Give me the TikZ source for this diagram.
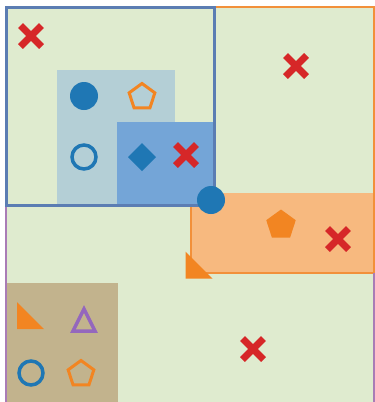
\documentclass[tikz,border=0pt]{standalone}
\definecolor{bggreen}{HTML}{DFEBCF}
\definecolor{blueborder}{HTML}{5B7DB3}
\definecolor{lightblue}{HTML}{B4CFD6}
\definecolor{midblue}{HTML}{74A5D7}
\definecolor{orangefill}{HTML}{F7B97F}
\definecolor{orangeline}{HTML}{F2903A}
\definecolor{mblue}{HTML}{1F77B4}
\definecolor{morange}{HTML}{F28522}
\definecolor{mred}{HTML}{D62728}
\definecolor{mpurple}{HTML}{9467BD}
\definecolor{purpleline}{HTML}{A97CB6}
\definecolor{tan}{HTML}{C2B38D}
\tikzset{
  xmark/.pic={\draw[mred,line width=7pt] (-10.5,-10.5)--(10.5,10.5) (-10.5,10.5)--(10.5,-10.5);},
  pentout/.pic={\draw[morange,line width=3pt,line join=miter] (0,-13.5)--(-12.84,-4.17)--(-7.94,10.92)--(7.94,10.92)--(12.84,-4.17)--cycle;},
  pentfill/.pic={\fill[morange] (0,-15.5)--(-14.74,-4.79)--(-9.11,12.54)--(9.11,12.54)--(14.74,-4.79)--cycle;},
  circfill/.pic={\fill[mblue] (0,0) circle (14);},
  circout/.pic={\draw[mblue,line width=3.5pt] (0,0) circle (12);},
  diam/.pic={\fill[mblue] (0,-14)--(14,0)--(0,14)--(-14,0)--cycle;},
  rtri/.pic={\fill[morange] (0,0)--(0,27)--(27,27)--cycle;},
  triout/.pic={\draw[mpurple,line width=3.5pt,line join=miter] (0,-11)--(11,11)--(-11,11)--cycle;}
}
\begin{document}
\begin{tikzpicture}[x=1pt,y=-1pt]
\useasboundingbox (0,0) rectangle (375,402);
% background
\fill[bggreen] (5,6) rectangle (375,402);
% orange strip
\fill[orangefill] (191,193) rectangle (375,273);
% orange set outline
\draw[orangeline,line width=2.5pt] (191,7) rectangle (374,273);
% tan region
\fill[tan] (7,283) rectangle (118,402);
% purple set outline
\draw[purpleline,line width=2.5pt] (6,205) -- (6,410) (374,273) -- (374,410);
% blue set
\filldraw[fill=bggreen,draw=blueborder,line width=3pt] (6,7) rectangle (214,205);
\fill[lightblue] (57,70) rectangle (175,204);
\fill[midblue] (117,122) rectangle (213,204);
\draw[blueborder,line width=3pt] (6,7) rectangle (214,205);
% markers
\pic at (31,36) {xmark};
\pic at (296,66) {xmark};
\pic at (186,155) {xmark};
\pic at (338,239) {xmark};
\pic at (253,349) {xmark};
\pic at (84,96) {circfill};
\pic at (142,97) {pentout};
\pic at (84,157) {circout};
\pic at (142,157) {diam};
\pic at (211,200) {circfill};
\pic at (281,225) {pentfill};
\pic at (185.5,251.5) {rtri};
\pic at (17,302) {rtri};
\pic at (84,320) {triout};
\pic at (31,373) {circout};
\pic at (81,374) {pentout};
\end{tikzpicture}
\end{document}
